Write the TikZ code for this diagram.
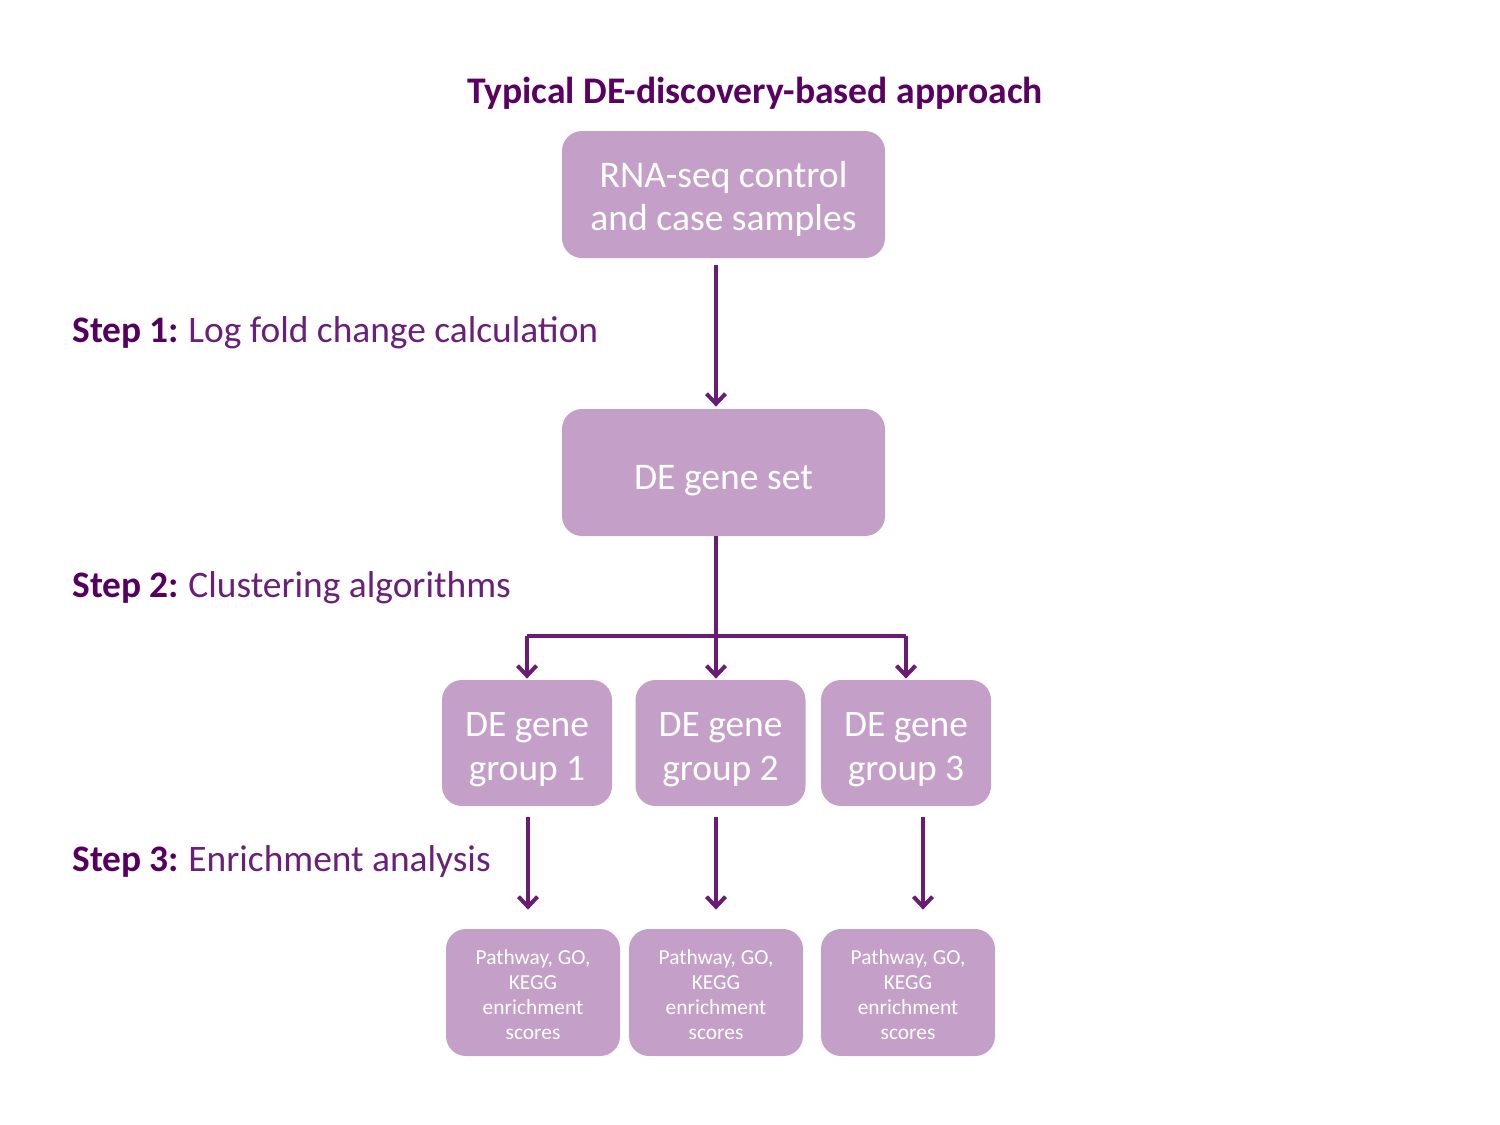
\documentclass[tikz,border=0pt]{standalone}
\usepackage{fontspec}
\setmainfont{Carlito}
\usetikzlibrary{arrows.meta}
\definecolor{boxfill}{HTML}{C4A0C8}
\definecolor{titlecol}{HTML}{5A0062}
\definecolor{stepbold}{HTML}{55005F}
\definecolor{steptext}{HTML}{6A1F7A}
\definecolor{arrcol}{HTML}{6A1B74}
\newcommand\lowtext[2]{\raisebox{-#1}[\height][\depth]{\begin{tabular}{@{}c@{}}#2\end{tabular}}}
\tikzset{
  box/.style={fill=boxfill, rounded corners=10pt, text=white, inner sep=0pt},
  bigbox/.style={box, minimum width=161.5pt, minimum height=63.5pt, font=\fontsize{18.8}{21.5}\selectfont},
  grpbox/.style={box, minimum width=85pt, minimum height=63pt, font=\fontsize{18.7}{22}\selectfont},
  smallbox/.style={box, minimum width=87pt, minimum height=63.5pt, font=\fontsize{10.7}{12.5}\selectfont},
  arr/.style={draw=arrcol, line width=2pt, -{Straight Barb[length=5pt,width=9.5pt,line width=2pt]}},
  ln/.style={draw=arrcol, line width=2pt},
  steplbl/.style={anchor=base west, inner sep=0pt, text=steptext, font=\fontsize{18.7}{21}\selectfont},
}
\begin{document}
\begin{tikzpicture}[x=0.5pt,y=-0.5pt]
\useasboundingbox (0,0) rectangle (1500,1125);
\node[anchor=base, inner sep=0pt, text=titlecol, font=\fontsize{18.8}{21}\selectfont\bfseries] (title) at (755,103) {Typical DE-discovery-based approach};
\node[bigbox] (b1) at (723.5,194.5) {\lowtext{2.75pt}{RNA-seq control\\and case samples}};
\node[bigbox] (b2) at (723.5,472.5) {\lowtext{4pt}{DE gene set}};
\node[grpbox] (g1) at (527,743) {\lowtext{3.5pt}{DE gene\\group 1}};
\node[grpbox] (g2) at (720.5,743) {\lowtext{3.5pt}{DE gene\\group 2}};
\node[grpbox] (g3) at (906,743) {\lowtext{3.5pt}{DE gene\\group 3}};
\node[smallbox] (e1) at (533,992.5) {\lowtext{2pt}{Pathway, GO,\\KEGG\\enrichment\\scores}};
\node[smallbox] (e2) at (716,992.5) {\lowtext{2pt}{Pathway, GO,\\KEGG\\enrichment\\scores}};
\node[smallbox] (e3) at (908,992.5) {\lowtext{2pt}{Pathway, GO,\\KEGG\\enrichment\\scores}};
\node[steplbl] (s1) at (72,342) {\textcolor{stepbold}{\bfseries Step 1:}\hspace{-1pt} Log fold change calculation};
\node[steplbl] (s2) at (72,597) {\textcolor{stepbold}{\bfseries Step 2:}\hspace{-1pt} Clustering algorithms};
\node[steplbl] (s3) at (72,871) {\textcolor{stepbold}{\bfseries Step 3:}\hspace{-1pt} Enrichment analysis};
% connectors
\coordinate (split) at (716,636);
\coordinate (splitL) at (527,636);
\coordinate (splitR) at (906,636);
\draw[arr] ([xshift=-3.75pt,yshift=-3.5pt]b1.south) -- ([xshift=-3.75pt,yshift=1pt]b2.north);
\draw[ln] ([xshift=-3.75pt]b2.south) -- (split);
\draw[ln] (splitL) -- (splitR);
\draw[arr] (splitL) -- ([yshift=0.5pt]g1.north);
\draw[arr] (split) -- ([yshift=0.5pt]g2.north -| split);
\draw[arr] (splitR) -- ([yshift=0.5pt]g3.north);
\draw[arr] ([xshift=0.5pt,yshift=-5.5pt]g1.south) -- ([xshift=-2.5pt,yshift=9.5pt]e1.north);
\draw[arr] ([xshift=-2.25pt,yshift=-5.5pt]g2.south) -- ([yshift=9.5pt]e2.north);
\draw[arr] ([xshift=8.5pt,yshift=-5.5pt]g3.south) -- ([xshift=7.5pt,yshift=9.5pt]e3.north);
\end{tikzpicture}
\end{document}
